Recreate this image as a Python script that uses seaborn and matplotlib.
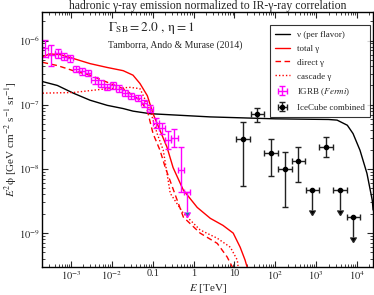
import numpy as np
import pandas as pd
import matplotlib
matplotlib.use("Agg")
import matplotlib.pyplot as plt
import seaborn as sns
from matplotlib.ticker import FixedLocator, LogLocator, NullFormatter

# ---------------- data (log10 values) ----------------
nu_logE = [-3.69, -3.33, -2.94, -2.53, -2.11, -1.72, -1.48, -1.06, 0.41, 2.0, 3.3,
           3.51, 3.76, 3.90, 4.07, 4.24, 4.37, 4.39]
nu_logF = [-6.64, -6.70, -6.82, -6.93, -7.01, -7.06, -7.10, -7.14, -7.19, -7.22, -7.23,
           -7.24, -7.32, -7.45, -7.71, -8.07, -8.49, -8.64]

tot_logE = [-3.69, -3.51, -3.26, -2.94, -2.53, -2.11, -1.72, -1.48, -1.31, -1.13, -0.99,
            -0.82, -0.65, -0.50, -0.25, 0.09, 0.41, 0.72, 0.97, 1.14, 1.26, 1.31]
tot_logF = [-6.25, -6.21, -6.22, -6.28, -6.36, -6.42, -6.47, -6.54, -6.67, -6.86, -7.14,
            -7.40, -7.66, -7.98, -8.33, -8.60, -8.77, -8.88, -9.00, -9.22, -9.42, -9.53]

dir_logE = [-3.69, -3.33, -2.94, -2.53, -2.11, -1.72, -1.31, -1.13, -0.99, -0.82, -0.69,
            -0.25, 0.16, 0.58, 0.82, 0.95]
dir_logF = [-6.34, -6.39, -6.47, -6.54, -6.65, -6.75, -6.93, -7.09, -7.45, -7.71, -7.98,
            -8.75, -9.00, -9.16, -9.37, -9.53]

cas_logE = [-3.69, -2.94, -2.11, -1.55, -1.31, -1.06, -0.89, -0.74, -0.57, -0.25, 0.16,
            0.58, 0.90, 1.07, 1.09]
cas_logF = [-6.82, -6.81, -6.75, -6.73, -6.75, -7.09, -7.45, -7.71, -8.38, -8.69, -8.95,
            -9.08, -9.22, -9.42, -9.53]

# IGRB (Fermi) points
igrb_logE = [-3.624, -3.474, -3.323, -3.173, -3.023, -2.872, -2.722, -2.571, -2.421, -2.271,
             -2.120, -1.970, -1.820, -1.669, -1.519, -1.368, -1.218, -1.068, -0.917, -0.767,
             -0.617, -0.466, -0.316, -0.165]
igrb_logF = [-6.12, -6.23, -6.20, -6.25, -6.28, -6.44, -6.48, -6.51, -6.62, -6.67,
             -6.72, -6.70, -6.75, -6.82, -6.86, -6.90, -6.98, -7.06, -7.29, -7.37,
             -7.55, -7.52, -8.01, -8.36]
igrb_logErr = [0.13, 0.16, 0.07, 0.06, 0.05, 0.05, 0.05, 0.05, 0.05, 0.05,
               0.05, 0.05, 0.05, 0.05, 0.05, 0.05, 0.05, 0.05, 0.08, 0.08,
               0.14, 0.14, 0.35, 0.31]
igrb_ul = [False] * 23 + [True]
igrb_halfbin = 0.075

# IceCube combined
ic_logE = [1.205, 1.562, 1.890, 2.240, 2.565, 2.907, 3.235, 3.584, 3.910]
ic_logF = [-7.53, -7.15, -7.75, -8.00, -7.87, -8.33, -7.66, -8.33, -8.75]
ic_logErrHi = [0.26, 0.10, 0.22, 0.26, 0.21, 0.0, 0.15, 0.0, 0.0]
ic_logErrLo = [0.73, 0.12, 0.36, 0.60, 0.33, 0.31, 0.16, 0.31, 0.31]
ic_ul = [False, False, False, False, False, True, False, True, True]
ic_halfbin = 0.167

x_ticks = [1e-3, 1e-2, 0.1, 1, 10, 1e2, 1e3, 1e4]
x_ticklabels = [r"$10^{-3}$", r"$10^{-2}$", "0.1", "1", "10", r"$10^{2}$", r"$10^{3}$", r"$10^{4}$"]
y_ticks = [1e-9, 1e-8, 1e-7, 1e-6]
y_ticklabels = [r"$10^{-9}$", r"$10^{-8}$", r"$10^{-7}$", r"$10^{-6}$"]

# ---------------- style ----------------
sns.set_style("ticks")
plt.rcParams["font.family"] = ["Liberation Serif", "DejaVu Serif"]
plt.rcParams["mathtext.fontset"] = "stix"
plt.rcParams["xtick.direction"] = "in"
plt.rcParams["ytick.direction"] = "in"

fig = plt.figure(figsize=(3.74, 2.95), dpi=100)
ax = fig.add_axes([0.113, 0.096, 0.8835, 0.864])

def curve(le, lf):
    return pd.DataFrame({"E": np.power(10.0, le), "F": np.power(10.0, lf)})

lw = 1.0
sns.lineplot(data=curve(nu_logE, nu_logF), x="E", y="F", ax=ax, color="black",
             lw=lw, sort=False, label="ν (per flavor)")
sns.lineplot(data=curve(tot_logE, tot_logF), x="E", y="F", ax=ax, color="#ff0000",
             lw=lw, sort=False, label="total γ")
sns.lineplot(data=curve(dir_logE, dir_logF), x="E", y="F", ax=ax, color="#ff0000",
             lw=lw, sort=False, label="direct γ")
sns.lineplot(data=curve(cas_logE, cas_logF), x="E", y="F", ax=ax, color="#ff0000",
             lw=lw, sort=False, label="cascade γ")
lines = ax.get_lines()
lines[2].set_linestyle((0, (4, 2.5)))
lines[3].set_linestyle((0, (1, 1.5)))

# IGRB
iE = np.power(10.0, igrb_logE)
iF = np.power(10.0, igrb_logF)
iul = np.array(igrb_ul)
ilo = iF * (1 - np.power(10.0, -np.array(igrb_logErr)))
ihi = iF * (np.power(10.0, np.array(igrb_logErr)) - 1)
ihi[iul] = 0
ixlo = iE * (1 - 10 ** -igrb_halfbin)
ixhi = iE * (10 ** igrb_halfbin - 1)
ax.errorbar(iE, iF, yerr=[ilo, ihi], xerr=[ixlo, ixhi], uplims=iul, fmt="none",
            ecolor="#ff00ff", elinewidth=1.0, capsize=2.5, capthick=1.0,
            label="IGRB ($\\it{Fermi}$)")

# IceCube
cE = np.power(10.0, ic_logE)
cF = np.power(10.0, ic_logF)
cul = np.array(ic_ul)
clo = cF * (1 - np.power(10.0, -np.array(ic_logErrLo)))
chi = cF * (np.power(10.0, np.array(ic_logErrHi)) - 1)
cxlo = cE * (1 - 10 ** -ic_halfbin)
cxhi = cE * (10 ** ic_halfbin - 1)
ax.errorbar(cE, cF, yerr=[clo, chi], xerr=[cxlo, cxhi], uplims=cul, fmt="o",
            ms=3, color="black", ecolor="#222222", elinewidth=1.0, capsize=2.5,
            capthick=1.0, label="IceCube combined")

ax.set_xscale("log")
ax.set_yscale("log")
ax.set_xlim(2e-4, 2.4e4)
ax.set_ylim(3e-10, 2.8e-6)
ax.xaxis.set_major_locator(FixedLocator(x_ticks))
ax.set_xticklabels(x_ticklabels)
ax.yaxis.set_major_locator(FixedLocator(y_ticks))
ax.set_yticklabels(y_ticklabels)
ax.xaxis.set_minor_locator(LogLocator(base=10, subs=np.arange(2, 10), numticks=20))
ax.yaxis.set_minor_locator(LogLocator(base=10, subs=np.arange(2, 10), numticks=20))
ax.xaxis.set_minor_formatter(NullFormatter())
ax.yaxis.set_minor_formatter(NullFormatter())
ax.tick_params(which="both", top=True, right=True, direction="in", labelsize=7.5)
ax.tick_params(axis="x", pad=2)
ax.tick_params(axis="y", pad=2)
ax.tick_params(which="major", length=4, width=0.8)
ax.tick_params(which="minor", length=2, width=0.6)
for s in ax.spines.values():
    s.set_linewidth(1.0)
    s.set_color("black")

ax.set_xlabel(r"$E$ [TeV]", fontsize=8, labelpad=0)
ax.set_ylabel(r"$E^2\mathrm{\phi}$ [GeV cm$^{-2}$ s$^{-1}$ sr$^{-1}$]", fontsize=8, labelpad=0)
ax.set_title("hadronic γ-ray emission normalized to IR-γ-ray correlation", fontsize=8.5, pad=2)

ax.text(0.20, 0.936, r"$\Gamma_{\mathrm{SB}} = 2.0\ ,\, \mathrm{\eta} = 1$", transform=ax.transAxes,
        fontsize=9.5, va="center", ha="left")
ax.text(0.20, 0.869, "Tamborra, Ando & Murase (2014)", transform=ax.transAxes,
        fontsize=7, va="center", ha="left")

leg = ax.legend(loc="upper right", bbox_to_anchor=(0.992, 0.948), borderaxespad=0,
                fontsize=6.5, frameon=True, fancybox=False, edgecolor="black",
                handlelength=1.6, handletextpad=0.8, labelspacing=0.62, borderpad=0.6)
leg.get_frame().set_linewidth(0.8)

fig.savefig("out.png", dpi=100)
